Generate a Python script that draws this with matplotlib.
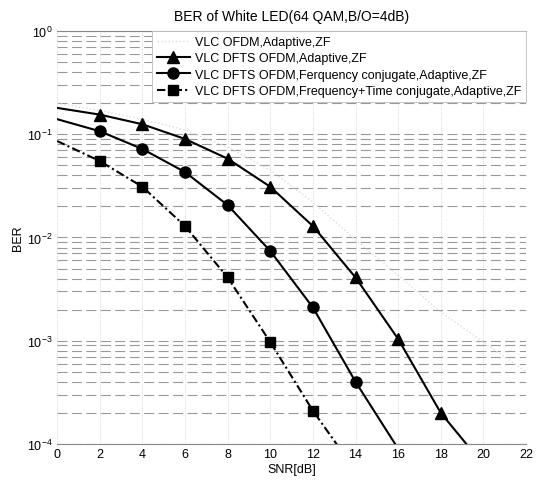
import matplotlib
matplotlib.use("Agg")
import matplotlib.pyplot as plt
import numpy as np

plt.rcParams['font.family'] = ['Liberation Sans', 'DejaVu Sans']

title = "BER of White LED(64 QAM,B/O=4dB)"
xlabel = "SNR[dB]"
ylabel = "BER"

snr = [0, 2, 4, 6, 8, 10, 12, 14, 16, 18, 20, 22]

label_ofdm = "VLC OFDM,Adaptive,ZF"
ber_ofdm = [0.2, 0.17, 0.14, 0.11, 0.075, 0.045, 0.022, 0.0095, 0.0043, 0.0019, 0.00097, 0.0005]

label_dfts = "VLC DFTS OFDM,Adaptive,ZF"
snr_dfts = [0, 2, 4, 6, 8, 10, 12, 14, 16, 18, 20]
ber_dfts = [0.18, 0.155, 0.125, 0.09, 0.058, 0.031, 0.0129, 0.0041, 0.00104, 0.0002, 0.000063]

label_fc = "VLC DFTS OFDM,Ferquency conjugate,Adaptive,ZF"
snr_fc = [0, 2, 4, 6, 8, 10, 12, 14, 16]
ber_fc = [0.14, 0.107, 0.072, 0.043, 0.0206, 0.0074, 0.0021, 0.0004, 0.00009]

label_ftc = "VLC DFTS OFDM,Frequency+Time conjugate,Adaptive,ZF"
snr_ftc = [0, 2, 4, 6, 8, 10, 12, 14]
ber_ftc = [0.086, 0.055, 0.031, 0.0129, 0.0041, 0.00097, 0.00021, 0.000055]

xticks = [0, 2, 4, 6, 8, 10, 12, 14, 16, 18, 20, 22]

fig = plt.figure(figsize=(5.44, 4.85), dpi=100)
ax = fig.add_axes([0.105, 0.0825, 0.862, 0.8515])

ax.set_yscale('log')
ax.set_xlim(0, 22)
ax.set_ylim(1e-4, 1)
ax.set_xticks(xticks)

# grid
ax.yaxis.grid(True, which='both', color='#999999', linewidth=0.8, dashes=(9, 4))
ax.xaxis.grid(True, which='major', color='#cccccc', linewidth=0.6, linestyle=':')
ax.set_axisbelow(True)

ax.plot(snr, ber_ofdm, color='#dddddd', linestyle=':', linewidth=1.0, label=label_ofdm)
ax.plot(snr_dfts, ber_dfts, color='black', linewidth=1.5, marker='^', markersize=8,
        markevery=list(range(1, 10)), label=label_dfts)
ax.plot(snr_fc, ber_fc, color='black', linewidth=1.5, marker='o', markersize=8,
        markevery=list(range(1, 8)), label=label_fc)
ax.plot(snr_ftc, ber_ftc, color='black', linewidth=1.5, marker='s', markersize=7,
        dashes=(4, 1.5, 1, 1.5), markevery=list(range(1, 7)), label=label_ftc)

for s in ['left', 'right']:
    ax.spines[s].set_visible(False)
for s in ['top', 'bottom']:
    ax.spines[s].set_color('#888888')
    ax.spines[s].set_linewidth(0.8)

ax.tick_params(axis='both', which='both', length=0, labelsize=9, pad=3)

ax.set_title(title, fontsize=10, pad=8)
ax.set_xlabel(xlabel, fontsize=9, labelpad=2)
ax.set_ylabel(ylabel, fontsize=9, labelpad=2)

leg = ax.legend(loc='upper right', bbox_to_anchor=(1.0, 1.0), borderaxespad=0.0,
                fontsize=9, frameon=True, fancybox=False, handlelength=2.6,
                handletextpad=0.4, labelspacing=0.35, borderpad=0.4)
leg.get_frame().set_edgecolor('#bbbbbb')
leg.get_frame().set_linewidth(0.6)
leg.get_frame().set_alpha(1.0)

fig.savefig('out.png', dpi=100)
